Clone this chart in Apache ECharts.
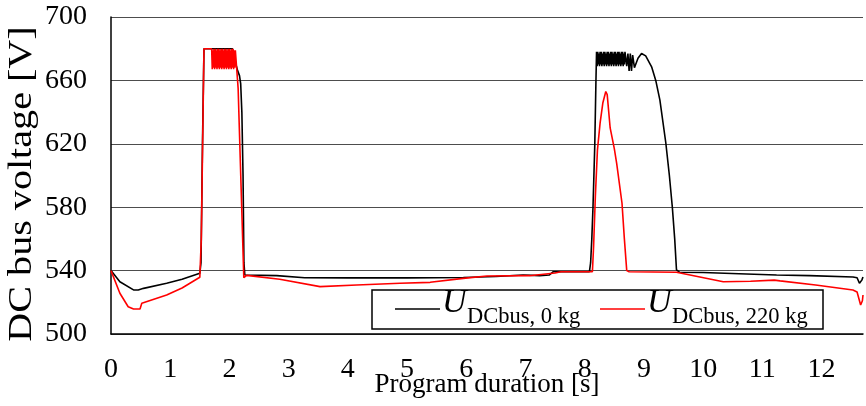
<!DOCTYPE html>
<html>
<head>
<meta charset="utf-8">
<script src="https://cdn.jsdelivr.net/npm/echarts@6/dist/echarts.min.js"></script>
<style>
  html, body { margin: 0; padding: 0; background: #fff; }
  #chart { width: 866px; height: 406px; }
</style>
</head>
<body>
<div id="chart"></div>
<script>
// DC bus voltage over the program run, unloaded (0 kg) and loaded (220 kg)
const FONT = '"Liberation Serif", "Times New Roman", serif';

const yTicks = [500, 540, 580, 620, 660, 700];

// U_DCbus, 0 kg
const timeBlack = [
  0, 0.03, 0.15, 0.38, 0.46, 0.55, 0.94, 1.2, 1.5, 1.52, 1.545, 1.57,
  2.05, 2.07, 2.09, 2.11, 2.14, 2.17, 2.19, 2.21, 2.23, 2.245, 2.26,
  2.8, 3.27, 4.0, 5.0, 5.95, 6.5, 6.96, 7.24, 7.4, 7.47, 8.08,
  8.1, 8.12, 8.14, 8.17, 8.19,
  8.20, 8.21, 8.22, 8.23, 8.24, 8.25, 8.26, 8.27, 8.28, 8.29,
  8.30, 8.31, 8.32, 8.33, 8.34, 8.35, 8.36, 8.37, 8.38, 8.39,
  8.40, 8.41, 8.42, 8.43, 8.44, 8.45, 8.46, 8.47, 8.48, 8.49,
  8.50, 8.51, 8.52, 8.53, 8.54, 8.55, 8.56, 8.57, 8.58, 8.59,
  8.60, 8.61, 8.62, 8.63, 8.64, 8.65, 8.66, 8.67, 8.68,
  8.71, 8.73, 8.75, 8.77, 8.79, 8.81, 8.84, 8.9, 8.96, 9.03, 9.13, 9.2,
  9.27, 9.37, 9.43, 9.48, 9.52, 9.55, 9.6, 10.0, 10.73, 11.24, 11.8,
  12.53, 12.6, 12.64, 12.66, 12.68, 12.7
];
const voltBlack = [
  540, 539, 533, 527.8, 527.8, 528.8, 532, 534.5, 538.3, 545, 620, 680,
  680, 678, 679, 670, 666, 663, 658, 640, 600, 545, 537.2,
  536.8, 535.5, 535.4, 535.4, 535.6, 536.3, 537.2, 536.8, 537.2, 539.3, 539.3,
  545, 560, 580, 619, 660,
  678, 669, 678, 670, 677, 669, 678, 670, 678, 669,
  677, 670, 678, 669, 678, 670, 677, 669, 678, 670,
  678, 669, 677, 670, 678, 669, 678, 670, 677, 669,
  678, 670, 678, 669, 677, 670, 678, 669, 678, 670,
  677, 669, 678, 670, 678, 669, 677, 670, 678,
  669, 677, 666, 677, 666, 676, 668, 674, 677, 675.5, 668.6, 660,
  647.6, 620.5, 600, 580, 560, 540.5, 539, 538.8, 537.9, 537.2, 536.8,
  536, 535.5, 532, 531, 534, 536
];

// U_DCbus, 220 kg
const timeRed = [
  0, 0.03, 0.15, 0.29, 0.38, 0.49, 0.52, 0.94, 1.2, 1.5, 1.52, 1.525, 1.57,
  1.70, 1.71, 1.72, 1.73, 1.74, 1.75, 1.76, 1.77, 1.78, 1.79,
  1.80, 1.81, 1.82, 1.83, 1.84, 1.85, 1.86, 1.87, 1.88, 1.89,
  1.90, 1.91, 1.92, 1.93, 1.94, 1.95, 1.96, 1.97, 1.98, 1.99,
  2.00, 2.01, 2.02, 2.03, 2.04, 2.05, 2.06, 2.07, 2.08, 2.09,
  2.10, 2.147, 2.243, 2.29, 2.85, 3.53, 4.15, 4.88, 5.39, 5.95, 6.35,
  7.07, 7.5, 7.6, 8.13, 8.15, 8.18, 8.215, 8.26, 8.306, 8.356, 8.38,
  8.43, 8.5, 8.54, 8.63, 8.67, 8.71, 8.75, 9.55, 10.34, 10.8, 11.2,
  11.3, 11.9, 12.53, 12.6, 12.66, 12.69, 12.7
];
const voltRed = [
  540, 539.5, 525.7, 517.2, 515.8, 515.8, 519.4, 524.6, 529, 535.8, 537, 560, 680,
  680, 667, 679, 668, 680, 667, 680, 668, 679, 667,
  680, 668, 680, 667, 679, 668, 680, 667, 680, 668,
  679, 667, 680, 668, 680, 667, 679, 668, 680, 667,
  680, 668, 679, 667, 680, 668, 680, 667, 679, 668,
  679, 655, 535.5, 537, 534.5, 529.9, 530.9, 532, 532.6, 535.1, 536.6,
  536.8, 538.5, 539.3, 539.3, 555, 587, 616, 633, 645.7, 653, 651,
  630, 617, 607.7, 582.5, 560, 540, 539.3, 539, 533, 533.3, 534,
  533.5, 530.9, 527.8, 526.5, 518.3, 521, 524.6
];

const pairs = (ts, vs) => ts.map((t, i) => [t, vs[i]]);

const chart = echarts.init(document.getElementById('chart'), null, { renderer: 'canvas' });

chart.setOption({
  animation: false,
  backgroundColor: '#fff',
  textStyle: { fontFamily: FONT, color: '#000' },
  grid: { left: 111, right: 3, top: 17, bottom: 72, containLabel: false, outerBoundsMode: 'none' },
  xAxis: {
    type: 'value',
    min: 0,
    max: 12.7,
    interval: 1,
    name: 'Program duration [s]',
    nameLocation: 'middle',
    nameGap: 37,
    nameMoveOverlap: false,
    nameTextStyle: { fontFamily: FONT, fontSize: 27, color: '#000' },
    axisLine: { show: true, lineStyle: { color: '#000', width: 1.5 } },
    axisTick: { show: false },
    splitLine: { show: false },
    axisLabel: {
      fontFamily: FONT, fontSize: 28, color: '#000', margin: 22,
      formatter: v => (Number.isInteger(v) ? String(v) : '')
    }
  },
  yAxis: {
    type: 'value',
    min: yTicks[0],
    max: yTicks[yTicks.length - 1],
    interval: 40,
    axisLine: { show: true, lineStyle: { color: '#000', width: 1.5 } },
    axisTick: { show: false },
    splitLine: { show: true, lineStyle: { color: '#4d4d4d', width: 1 } },
    axisLabel: { fontFamily: FONT, fontSize: 28, color: '#000', margin: 24 }
  },
  series: [
    {
      name: 'U_DCbus, 0 kg',
      type: 'line',
      data: pairs(timeBlack, voltBlack),
      showSymbol: false,
      symbol: 'none',
      lineStyle: { color: '#000', width: 1.6 },
      z: 2
    },
    {
      name: 'U_DCbus, 220 kg',
      type: 'line',
      data: pairs(timeRed, voltRed),
      showSymbol: false,
      symbol: 'none',
      lineStyle: { color: '#ff0000', width: 1.6 },
      z: 3
    }
  ],
  graphic: [
    {
      type: 'text', x: 22, y: 184, rotation: Math.PI / 2, scaleX: 1.18, z: 50,
      style: { text: 'DC bus voltage [V]', fontFamily: FONT, fontSize: 34, fill: '#000',
               align: 'center', verticalAlign: 'middle' }
    },
    {
      type: 'group', z: 100,
      children: [
        { type: 'rect', shape: { x: 372, y: 290, width: 451, height: 39 },
          style: { fill: '#fff', stroke: '#000', lineWidth: 1.5 } },
        { type: 'line', shape: { x1: 395, y1: 309, x2: 440, y2: 309 },
          style: { stroke: '#000', lineWidth: 1.6 } },
        { type: 'text', x: 442, y: 303.5,
          style: { text: 'U', fontFamily: FONT, fontStyle: 'italic', fontSize: 34, fill: '#000', verticalAlign: 'middle' } },
        { type: 'text', x: 467, y: 317.4,
          style: { text: 'DCbus, 0 kg', fontFamily: FONT, fontSize: 22.5, fill: '#000', verticalAlign: 'middle' } },
        { type: 'line', shape: { x1: 600, y1: 309, x2: 645, y2: 309 },
          style: { stroke: '#ff0000', lineWidth: 1.6 } },
        { type: 'text', x: 647, y: 303.5,
          style: { text: 'U', fontFamily: FONT, fontStyle: 'italic', fontSize: 34, fill: '#000', verticalAlign: 'middle' } },
        { type: 'text', x: 672, y: 317.4,
          style: { text: 'DCbus, 220 kg', fontFamily: FONT, fontSize: 22.5, fill: '#000', verticalAlign: 'middle' } }
      ]
    }
  ]
});
</script>
</body>
</html>
